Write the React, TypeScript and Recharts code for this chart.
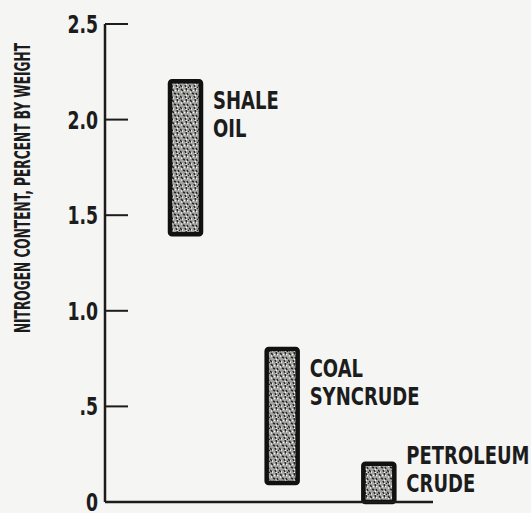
import React from 'react';
import { BarChart, Bar, XAxis, YAxis, LabelList, Label } from 'recharts';

// nitrogen content ranges, percent by weight
const fuels = ['Shale oil', 'Coal syncrude', 'Petroleum crude'];
const fuelLabelLines = [
  ['SHALE', 'OIL'],
  ['COAL', 'SYNCRUDE'],
  ['PETROLEUM', 'CRUDE'],
];
const nitrogenLow = [1.4, 0.1, 0.0];
const nitrogenHigh = [2.2, 0.8, 0.2];
const yTicks = [0, 0.5, 1.0, 1.5, 2.0, 2.5];
const yTickLabels = ['0', '.5', '1.0', '1.5', '2.0', '2.5'];

const FONT = "'DejaVu Sans', sans-serif";
const INK = '#1c1c1c';

// the original lettering is a condensed gothic; squeeze DejaVu horizontally
const squeezeAt = (x: number, s: number) => `translate(${x} 0) scale(${s} 1) translate(${-x} 0)`;

const chartData = fuels.map((name, i) => ({
  name,
  range: [nitrogenLow[i], nitrogenHigh[i]],
}));

const BarTag = (props: any) => {
  const { x, y, width, height, index } = props;
  const lines = fuelLabelLines[index] || [];
  const top = Math.min(y, y + height);
  const h = Math.abs(height);
  const lx = x + width + 12;
  const lineGap = 28;
  // short bars: last line sits on the middle of the bar
  const firstBase = h < 60 ? top + h / 2 + 9 - lineGap * (lines.length - 1) : top + 28;
  return (
    <g transform={squeezeAt(lx, 0.75)}>
      {lines.map((l, k) => (
        <text key={k} x={lx} y={firstBase + k * lineGap} fill={INK} fontFamily={FONT} fontWeight="bold" fontSize={24}>
          {l}
        </text>
      ))}
    </g>
  );
};

const YTick = (props: any) => {
  const { x, y, payload } = props;
  const i = yTicks.indexOf(payload.value);
  return (
    <text x={x + 3} y={y + 9} textAnchor="end" transform={squeezeAt(x + 3, 0.72)} fill={INK} fontFamily={FONT} fontWeight="bold" fontSize={24}>
      {yTickLabels[i]}
    </text>
  );
};

const YTitle = (props: any) => {
  const vb = props.viewBox || { x: 0, y: 0 };
  const cx = vb.x + 23;
  const cy = vb.y + 164;
  return (
    <g transform={`rotate(-90 ${cx} ${cy})`}>
      <text
        x={cx}
        y={cy + 7.5}
        transform={squeezeAt(cx, 0.58)}
        textAnchor="middle"
        fill={INK}
        fontFamily={FONT}
        fontWeight="bold"
        fontSize={21}
      >
        NITROGEN CONTENT,  PERCENT BY WEIGHT
      </text>
    </g>
  );
};

export default function App() {
  return (
    <div style={{ position: 'absolute', left: 0, top: 0, width: 531, height: 513, background: '#f5f5f3' }}>
      <BarChart width={531} height={513} data={chartData} margin={{ top: 24, right: 98, bottom: 0, left: 0 }}>
        <defs>
          <pattern id="stipple" width="9" height="11" patternUnits="userSpaceOnUse">
            <rect width="9" height="11" fill="#a4a4a1" />
            <path d="M1 1l2 2M6 0l1 3M3 5l2 1M7 5l1 2M0 8l2 2M5 8l1 2M8 10l1 1" stroke="#262626" strokeWidth="1.5" />
            <path d="M4 2l1 1M8 2l-1 1M1 4h1M6 7l1 1M2 10h1M6 11l1-1" stroke="#f4f4f2" strokeWidth="1.4" />
          </pattern>
        </defs>
        <XAxis
          dataKey="name"
          height={11}
          tick={false}
          tickLine={false}
          padding={{ left: 32, right: 6 }}
          axisLine={{ stroke: INK, strokeWidth: 2.5 }}
        />
        <YAxis
          width={105}
          domain={[0, 2.5]}
          ticks={yTicks}
          interval={0}
          tickSize={-23}
          tickMargin={33}
          tickLine={{ stroke: INK, strokeWidth: 2 }}
          axisLine={{ stroke: INK, strokeWidth: 2.5 }}
          tick={<YTick />}
        >
          <Label content={<YTitle />} />
        </YAxis>
        <Bar
          dataKey="range"
          barSize={31}
          fill="url(#stipple)"
          stroke="#111"
          strokeWidth={4.5}
          radius={2}
          isAnimationActive={false}
        >
          <LabelList dataKey="range" content={<BarTag />} />
        </Bar>
      </BarChart>
    </div>
  );
}
